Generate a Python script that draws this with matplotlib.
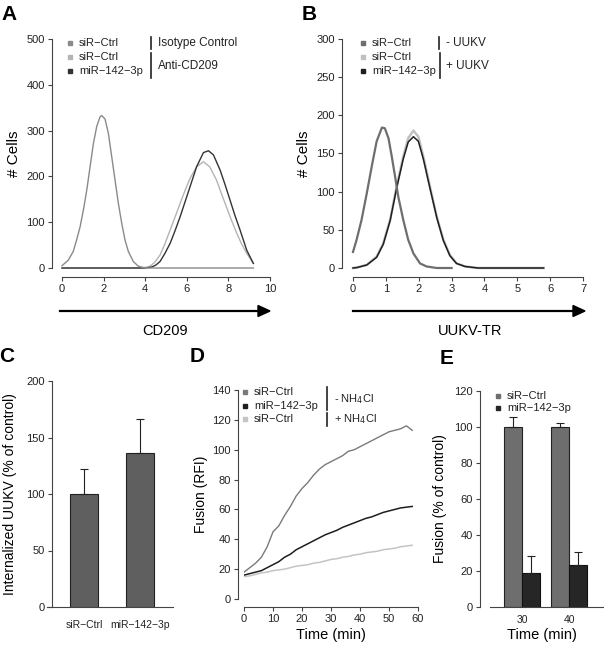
import numpy as np
import matplotlib
matplotlib.use("Agg")
import matplotlib.pyplot as plt
from matplotlib.lines import Line2D
from matplotlib.transforms import Affine2D

plt.rcParams["font.family"] = ["Liberation Sans", "DejaVu Sans"]

W, H = 604, 645

# ---- panel A: CD209 histograms ----
a_iso_x = [0, 0.3, 0.54, 0.7, 0.87, 1.03, 1.19, 1.35, 1.51, 1.67, 1.83, 1.91, 2.07, 2.23,
           2.39, 2.55, 2.71, 2.87, 3.03, 3.19, 3.43, 3.67, 3.91, 4.2, 5, 6, 7, 8, 9.2]
a_iso_y = [5, 17, 36, 61, 90, 127, 170, 221, 272, 309, 330, 333, 325, 294,
           243, 192, 141, 98, 61, 36, 14, 4, 1, 0, 0, 0, 0, 0, 0]
a_ctl_x = [0, 1, 2, 3, 3.8, 4.2, 4.45, 4.71, 4.95, 5.2, 5.44, 5.68, 5.92, 6.16, 6.47,
           6.8, 7.1, 7.43, 7.66, 7.9, 8.15, 8.4, 8.64, 8.88, 9.2]
a_ctl_y = [0, 0, 0, 0, 0, 3, 12, 28, 53, 83, 112, 141, 170, 196, 221,
           232, 221, 192, 163, 134, 104, 76, 52, 32, 10]
a_mir_x = [0, 1, 2, 3, 4.0, 4.3, 4.5, 4.71, 4.95, 5.2, 5.44, 5.68, 5.92, 6.16, 6.47,
           6.8, 7.04, 7.28, 7.6, 7.84, 8.08, 8.32, 8.56, 8.88, 9.2]
a_mir_y = [0, 0, 0, 0, 0, 2, 6, 14, 32, 54, 82, 112, 145, 178, 221,
           252, 256, 247, 214, 182, 148, 114, 83, 39, 10]

# ---- panel B: UUKV-TR histograms ----
b_neg_x = [0, 0.11, 0.26, 0.42, 0.57, 0.72, 0.88, 0.97, 1.08, 1.18, 1.28, 1.38, 1.53,
           1.68, 1.84, 2.04, 2.24, 2.55, 3.0]
b_neg_y = [21, 37, 63, 98, 133, 166, 184, 183, 170, 146, 120, 93, 63,
           37, 19, 6, 2, 0, 0]
b_pos_x = [0, 0.11, 0.42, 0.72, 0.92, 1.13, 1.33, 1.53, 1.68, 1.84, 1.99, 2.14, 2.34,
           2.55, 2.75, 2.95, 3.15, 3.41, 3.8, 4.5, 5.8]
b_ctl_y = [0, 0.5, 4, 15, 32, 63, 107, 146, 170, 180, 172, 146, 107,
           67, 37, 17, 6, 2, 0, 0, 0]
b_mir_y = [0, 0.5, 4, 14, 31, 62, 105, 143, 165, 172, 166, 143, 105,
           66, 36, 16, 6, 2, 0, 0, 0]

# ---- panel C: internalization ----
c_labels = ["siR\u2212Ctrl", "miR\u2212142\u22123p"]
c_values = [100, 136.5]
c_err = [22.5, 29.5]

# ---- panel D: fusion kinetics ----
d_time = [0, 2, 4, 6, 8, 10, 12, 14, 16, 18, 20, 22, 24, 26, 28, 30, 32, 34, 36, 38,
          40, 42, 44, 46, 48, 50, 52, 54, 56, 58]
d_ctl = [18, 21, 24, 28, 35, 45, 49, 56, 62, 69, 74, 78, 83, 87, 90, 92, 94, 96, 99, 100,
         102, 104, 106, 108, 110, 112, 113, 114, 116, 113]
d_mir = [16, 17, 18, 19, 21, 23, 25, 28, 30, 33, 35, 37, 39, 41, 43, 44.5, 46, 48, 49.5, 51,
         52.5, 54, 55, 56.5, 58, 59, 60, 61, 61.5, 62]
d_nh4 = [15, 15.5, 16.5, 17.5, 18, 19, 19.5, 20, 21, 22, 22.5, 23, 24, 24.5, 25.5, 26.5, 27,
         28, 28.5, 29.5, 30, 31, 31.5, 32, 33, 33.5, 34, 35, 35.5, 36]

# ---- panel E: fusion at time points ----
e_times = ["30", "40"]
e_ctl = [100, 100]
e_ctl_err = [5.5, 2.5]
e_mir = [19, 23.5]
e_mir_err = [9.5, 7]

fig = plt.figure(figsize=(W / 100, H / 100), dpi=100)
pix = Affine2D().scale(1 / W, -1 / H).translate(0, 1) + fig.transFigure

AX = "#444444"
TXT = "#222222"


def rect(x0, x1, ytop, ybot):
    return [x0 / W, 1 - ybot / H, (x1 - x0) / W, (ybot - ytop) / H]


def r_axes(r, xlim, ylim, left_out, bottom_out, xticks, yticks, bottom=True):
    ax = fig.add_axes(r)
    ax.set_xlim(*xlim)
    ax.set_ylim(*ylim)
    for s in ["top", "right"]:
        ax.spines[s].set_visible(False)
    ax.spines["left"].set_position(("outward", left_out * 0.72))
    ax.spines["left"].set_bounds(yticks[0], yticks[-1])
    ax.set_yticks(yticks)
    if bottom:
        ax.spines["bottom"].set_position(("outward", bottom_out * 0.72))
        ax.spines["bottom"].set_bounds(xticks[0], xticks[-1])
        ax.set_xticks(xticks)
    else:
        ax.spines["bottom"].set_visible(False)
    for s in ["left", "bottom"]:
        ax.spines[s].set_color(AX)
        ax.spines[s].set_linewidth(0.8)
    ax.tick_params(length=3, width=0.8, color=AX, labelsize=8, labelcolor=TXT, pad=2)
    ax.patch.set_alpha(0)
    return ax


def legend_rows(x, ys, colors, labels, size=8):
    for y, c, lab in zip(ys, colors, labels):
        fig.add_artist(Line2D([x], [y], marker="s", markersize=3.3, color=c,
                              linestyle="none", transform=pix))
        fig.text(x + 9, y, lab, transform=pix, fontsize=size, color=TXT, va="center")


def vbar(x, y0, y1):
    fig.add_artist(Line2D([x, x], [y0, y1], color="#222222", lw=1.2, transform=pix))


def arrow(x0, x1, y):
    fig.add_artist(Line2D([x0, x1 - 8], [y, y], color="black", lw=1.6, transform=pix))
    fig.add_artist(plt.Polygon([[x1 - 12, y - 5.5], [x1, y], [x1 - 12, y + 5.5]],
                               closed=True, color="black", transform=pix))


def letter(x, y, s):
    fig.text(x, y, s, transform=pix, fontsize=15, fontweight="bold",
             ha="center", va="center")


# Panel A
ax = r_axes(rect(62, 270, 39, 268), (0, 10), (0, 500), 10, 9,
            [0, 2, 4, 6, 8, 10], [0, 100, 200, 300, 400, 500])
ax.plot(a_ctl_x, a_ctl_y, color="#b4b4b4", lw=1.0, clip_on=False)
ax.plot(a_mir_x, a_mir_y, color="#333333", lw=1.0, clip_on=False)
ax.plot(a_iso_x, a_iso_y, color="#8a8a8a", lw=1.0, clip_on=False)
ax.set_ylabel("# Cells", fontsize=11, labelpad=4)
legend_rows(70, [43, 57, 71], ["#8a8a8a", "#b4b4b4", "#333333"],
            ["siR\u2212Ctrl", "siR\u2212Ctrl", "miR\u2212142\u22123p"])
vbar(151, 37, 49)
vbar(151, 53, 78)
fig.text(158, 43, "Isotype Control", transform=pix, fontsize=8.5, color=TXT, va="center")
fig.text(158, 66, "Anti-CD209", transform=pix, fontsize=8.5, color=TXT, va="center")
arrow(60, 270, 311)
fig.text(165, 331, "CD209", transform=pix, fontsize=10.5, ha="center", va="center")
letter(9, 14, "A")

# Panel B
ax = r_axes(rect(353, 583, 39, 268), (0, 7), (0, 300), 11, 9,
            [0, 1, 2, 3, 4, 5, 6, 7], [0, 50, 100, 150, 200, 250, 300])
ax.plot(b_pos_x, b_ctl_y, color="#c0c0c0", lw=1.8, clip_on=False)
ax.plot(b_pos_x, b_mir_y, color="#1e1e1e", lw=1.1, clip_on=False)
ax.plot(b_neg_x, b_neg_y, color="#6e6e6e", lw=1.6, clip_on=False)
ax.set_ylabel("# Cells", fontsize=11, labelpad=4)
legend_rows(363, [43, 57, 71], ["#6e6e6e", "#c0c0c0", "#1e1e1e"],
            ["siR\u2212Ctrl", "siR\u2212Ctrl", "miR\u2212142\u22123p"])
vbar(439, 37, 49)
vbar(440, 53, 78)
fig.text(446, 43, "- UUKV", transform=pix, fontsize=8.5, color=TXT, va="center")
fig.text(446, 66, "+ UUKV", transform=pix, fontsize=8.5, color=TXT, va="center")
arrow(353, 585, 311)
fig.text(470, 331, "UUKV-TR", transform=pix, fontsize=10.5, ha="center", va="center")
letter(309, 14, "B")

# Panel C
ax = r_axes(rect(52, 173, 381, 607), (-0.571, 1.589), (0, 200), 0, 0,
            [0, 1], [0, 50, 100, 150, 200], bottom=False)
xc = np.arange(len(c_values))
ax.bar(xc, c_values, width=0.5, color="#5f5f5f", edgecolor="#222222", lw=0.8)
ax.errorbar(xc, c_values, yerr=[np.zeros(len(c_err)), c_err], fmt="none",
            ecolor="#222222", elinewidth=0.8, capsize=3, capthick=0.8)
ax.plot([-0.661, 1.589], [0, 0], color=AX, lw=0.8, clip_on=False)
ax.set_xticks(xc)
ax.set_xticklabels(c_labels)
ax.tick_params(axis="x", length=0, pad=9, labelsize=7.5)
ax.set_ylabel("Internalized UUKV (% of control)", fontsize=10, labelpad=7)
letter(7, 357, "C")

# Panel D
ax = r_axes(rect(244, 418, 390, 599), (0, 60), (0, 140), 6, 8,
            [0, 10, 20, 30, 40, 50, 60], [0, 20, 40, 60, 80, 100, 120, 140])
ax.plot(d_time, d_nh4, color="#c4c4c4", lw=1.1)
ax.plot(d_time, d_mir, color="#1e1e1e", lw=1.1)
ax.plot(d_time, d_ctl, color="#7a7a7a", lw=1.0)
ax.set_ylabel("Fusion (RFI)", fontsize=10, labelpad=3)
ax.set_xlabel("Time (min)", fontsize=10.5, labelpad=3)
legend_rows(245, [392, 406, 419], ["#7a7a7a", "#1e1e1e", "#c4c4c4"],
            ["siR\u2212Ctrl", "miR\u2212142\u22123p", "siR\u2212Ctrl"])
vbar(327, 387, 410)
vbar(327, 413, 426)
fig.text(334, 399, "- NH$_4$Cl", transform=pix, fontsize=8, color=TXT, va="center")
fig.text(334, 419, "+ NH$_4$Cl", transform=pix, fontsize=8, color=TXT, va="center")
letter(197, 357, "D")

# Panel E
ax = r_axes(rect(480, 603, 391, 607), (-0.894, 1.723), (0, 120), 0, 0,
            [0, 1], [0, 20, 40, 60, 80, 100, 120], bottom=False)
xe = np.arange(len(e_times))
w = 0.383
ax.bar(xe - w / 2, e_ctl, width=w, color="#6e6e6e", edgecolor="#222222", lw=0.8)
ax.bar(xe + w / 2, e_mir, width=w, color="#262626", edgecolor="#111111", lw=0.8)
ax.errorbar(xe - w / 2, e_ctl, yerr=[np.zeros(2), e_ctl_err], fmt="none",
            ecolor="#222222", elinewidth=0.8, capsize=3, capthick=0.8)
ax.errorbar(xe + w / 2, e_mir, yerr=[np.zeros(2), e_mir_err], fmt="none",
            ecolor="#222222", elinewidth=0.8, capsize=3, capthick=0.8)
ax.plot([-0.68, 1.723], [0, 0], color=AX, lw=0.8, clip_on=False)
ax.set_xticks(xe)
ax.set_xticklabels(e_times)
ax.tick_params(axis="x", length=0, pad=6, labelsize=7.5)
ax.set_ylabel("Fusion (% of control)", fontsize=10, labelpad=5)
ax.set_xlabel("Time (min)", fontsize=10.5, labelpad=2)
legend_rows(498, [396, 408], ["#6e6e6e", "#262626"],
            ["siR\u2212Ctrl", "miR\u2212142\u22123p"])
letter(447, 358, "E")

fig.savefig("out.png", dpi=100)
